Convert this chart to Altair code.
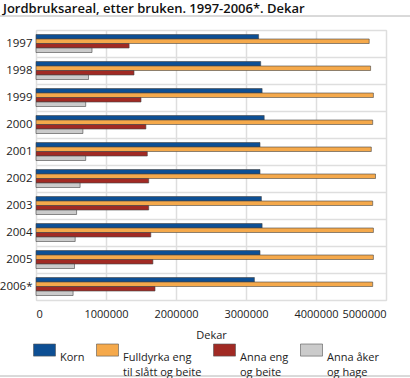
import altair as alt
import pandas as pd

title_text = "Jordbruksareal, etter bruken. 1997-2006*. Dekar"
years = ["1997", "1998", "1999", "2000", "2001", "2002", "2003", "2004", "2005", "2006*"]
series = ["Korn\n", "Fulldyrka eng\ntil slått og beite", "Anna eng\nog beite", "Anna åker\nog hage"]
colors = ["#0d4f94", "#f5a94b", "#a12a24", "#cbcbcb"]

korn = [3180000, 3210000, 3230000, 3260000, 3200000, 3200000, 3220000, 3230000, 3200000, 3120000]
fulldyrka = [4760000, 4780000, 4820000, 4810000, 4790000, 4850000, 4810000, 4820000, 4820000, 4810000]
anna_eng = [1330000, 1400000, 1500000, 1570000, 1590000, 1610000, 1610000, 1640000, 1670000, 1700000]
anna_aker = [800000, 750000, 710000, 670000, 710000, 630000, 580000, 560000, 550000, 530000]

rows = []
for vals, s in zip([korn, fulldyrka, anna_eng, anna_aker], series):
    for y, v in zip(years, vals):
        rows.append({"year": y, "serie": s, "value": v})
df = pd.DataFrame(rows)
one = pd.DataFrame({"t": [title_text]})

FONT = "Open Sans"

bars = alt.Chart(df).mark_bar(stroke="#444444", strokeWidth=0.6).encode(
    y=alt.Y("year:N", sort=years, title=None,
            scale=alt.Scale(paddingInner=0, paddingOuter=0),
            axis=alt.Axis(tickBand="extent", ticks=False, domain=False, labelPadding=4,
                          labelFontSize=11.5, labelColor="#222222", labelFont=FONT,
                          grid=True, gridColor="#dedede", gridWidth=1.5)),
    yOffset=alt.YOffset("serie:N", sort=series,
                        scale=alt.Scale(paddingInner=0, paddingOuter=1)),
    x=alt.X("value:Q", title="Dekar",
            scale=alt.Scale(domain=[0, 5000000], nice=False),
            axis=alt.Axis(values=[0, 1000000, 2000000, 3000000, 4000000, 5000000],
                          format="d", ticks=False, domain=False, labelPadding=8,
                          labelFontSize=11, labelColor="#222222", labelFont=FONT,
                          titleFontSize=11, titleFontWeight="normal", titleColor="#222222",
                          titleFont=FONT, titlePadding=10,
                          grid=True, gridColor="#dedede", gridWidth=1.5)),
    color=alt.Color("serie:N", sort=series,
                    scale=alt.Scale(domain=series, range=colors),
                    legend=alt.Legend(title=None, orient="none", legendX=-3, legendY=316,
                                      direction="horizontal", columns=4, columnPadding=10,
                                      symbolType="M-1,-1.25H1V-0.15H-1Z", symbolSize=484,
                                      symbolStrokeColor="#555555", symbolStrokeWidth=0.6,
                                      labelExpr="split(datum.label, '\\n')",
                                      labelBaseline="middle", labelOffset=4,
                                      labelFontSize=11, labelColor="#222222", labelFont=FONT,
                                      labelLimit=200)),
)

title = alt.Chart(one).mark_text(align="left", baseline="alphabetic", fontSize=13,
                                 fontWeight=600, font=FONT, color="#111111").encode(
    x=alt.value(-33), y=alt.value(-17), text="t:N"
)
rule_top = alt.Chart(one).mark_rule(color="#b4b4b4", strokeWidth=1).encode(
    x=alt.value(-36), x2=alt.value(374), y=alt.value(-14)
)
rule_bottom = alt.Chart(one).mark_rule(color="#b4b4b4", strokeWidth=1).encode(
    x=alt.value(-36), x2=alt.value(374), y=alt.value(346)
)

chart = alt.layer(bars, title, rule_top, rule_bottom).properties(
    width=350, height=270,
    autosize=alt.AutoSizeParams(type="none"),
    padding={"left": 36, "top": 30, "right": 24, "bottom": 78},
).configure_view(
    stroke="#dedede", strokeWidth=1.5
).configure(
    style={"guide-label": {"lineHeight": 15}}
)

chart.save("out.html", embed_options={"renderer": "svg", "actions": False})
